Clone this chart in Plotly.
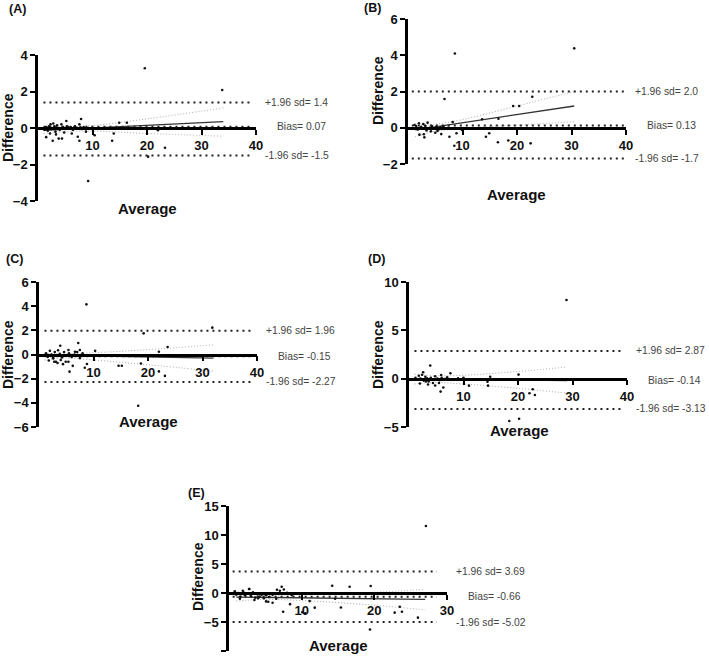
import plotly.graph_objects as go

# ---------------- data ----------------
panel_labels = ["(A)", "(B)", "(C)", "(D)", "(E)"]

A_x = [19.6, 33.8, 9.2, 23.3, 20.2, 14.9, 16.3, 13.6, 13.9, 7.9, 7.6, 7.3, 10.4, 5.2, 2.7, 3.8, 4.4, 1.5, 22.0,
       1.2, 1.5, 1.8, 2.0, 2.3, 2.5, 2.8, 3.0, 3.2, 3.5, 3.8, 4.0, 4.3, 4.6, 5.0, 5.3, 5.6, 6.0, 6.4, 6.8,
       7.2, 7.6, 8.0, 8.4, 8.8, 9.3, 2.2, 3.3, 4.8, 6.2]
A_y = [3.27, 2.08, -2.9, -1.08, -1.57, 0.29, 0.29, -0.7, -0.3, 0.49, -0.7, -0.48, -0.4, 0.38, -0.7, -0.58, -0.58, -0.5, -0.12,
       -0.1, 0.05, -0.15, 0.1, 0.2, -0.05, 0.25, 0.1, -0.2, 0.15, 0.0, -0.1, 0.2, 0.05, -0.05, 0.1, 0.0, 0.05, -0.1, 0.1,
       0.0, 0.2, -0.05, 0.05, -0.2, 0.0, -0.3, -0.35, -0.25, -0.3]

B_x = [30.5, 8.6, 6.7, 22.8, 19.3, 20.4, 13.6, 16.6, 14.3, 14.9, 16.5, 18.4, 22.5, 8.5, 8.9, 7.6, 8.2, 6.1, 5.0, 2.1,
       2.9, 3.0, 9.9,
       1.2, 1.5, 2.0, 2.4, 2.8, 3.2, 3.6, 4.0, 4.4, 4.8, 5.2, 5.6, 6.0, 6.5, 7.0, 7.4, 1.8, 3.4, 4.2, 5.4]
B_y = [4.38, 4.1, 1.59, 1.71, 1.2, 1.2, 0.47, 0.5, -0.5, -0.3, -0.8, -0.7, -0.86, -0.99, -0.3, -0.5, 0.32, -0.35, -0.28, -0.38,
       -0.36, -0.53, -0.12,
       0.15, 0.1, 0.25, 0.05, 0.2, 0.1, 0.28, 0.0, 0.1, -0.05, 0.05, -0.1, 0.02, 0.08, -0.05, 0.0, -0.1, -0.15, -0.2, -0.18]

C_x = [8.7, 31.8, 19.2, 23.6, 18.2, 23.1, 22.0, 14.6, 15.2, 7.2, 3.9, 5.6, 6.2, 8.4, 8.8, 10.3, 4.9, 5.4, 3.1, 2.6,
       5.4, 6.6, 7.5, 18.7, 22.0,
       1.3, 1.6, 2.0, 2.3, 2.6, 2.9, 3.2, 3.5, 3.8, 4.2, 4.6, 5.0, 5.5, 6.0, 6.5, 7.0, 7.5, 8.0, 1.8, 2.8, 3.4, 4.0, 4.4]
C_y = [4.15, 2.22, 1.75, 0.62, -4.24, -1.77, -1.4, -0.93, -0.93, 0.95, 0.72, -1.42, -0.94, -1.1, -0.79, 0.3, -0.6, -0.6, -0.6, -0.32,
       0.37, 0.23, 0.37, -0.75, 0.23,
       0.1, -0.2, 0.3, 0.0, -0.3, 0.2, -0.1, 0.35, 0.05, -0.25, 0.2, -0.1, 0.1, -0.2, 0.0, 0.2, -0.3, 0.1, -0.5, -0.6, -0.7, -0.45, -0.8]

D_x = [28.9, 18.4, 20.2, 20.1, 22.1, 22.7, 23.1, 14.5, 14.4, 14.9, 11.0, 5.8, 6.3, 5.5, 3.9, 7.6, 5.9, 2.6, 3.1, 4.4,
       1.2, 1.5, 1.8, 2.1, 2.4, 2.7, 3.0, 3.3, 3.6, 4.0, 4.4, 4.8, 5.2, 5.6, 6.0, 6.5, 7.0, 8.0, 9.0, 10.0, 2.0, 3.5, 4.8]
D_y = [8.14, -4.38, -4.15, 0.42, -1.51, -1.1, -1.69, -0.72, -0.31, 0.2, -0.72, -1.34, -0.91, -0.45, 1.35, 0.56, 0.38, 0.67, -0.3, -0.45,
       0.1, -0.1, 0.3, 0.0, 0.4, -0.2, 0.2, 0.05, -0.3, 0.1, -0.1, 0.25, 0.0, -0.15, 0.1, -0.05, 0.15, -0.1, 0.05, 0.1, -0.5, -0.6, -0.7]

E_x = [27.1, 19.4, 14.2, 16.6, 19.5, 26.0, 22.8, 23.5, 23.8, 15.4, 11.8, 14.6, 10.1, 10.5, 7.45, 8.4, 6.6, 7.25, 7.55, 8.0,
       8.65, 11.1, 5.4, 6.0, 5.1, 2.75, 7.0,
       0.8, 1.0, 1.3, 1.6, 1.9, 2.2, 2.5, 2.8, 3.0, 3.3, 3.6, 3.9, 4.2, 4.5, 4.8, 5.1, 5.5, 6.0, 6.5, 1.5, 2.0, 3.5, 4.0]
E_y = [11.55, -6.3, 1.26, 1.09, 1.2, -4.25, -3.39, -2.36, -3.22, -2.5, -2.53, -1.0, -3.3, -3.5, -3.22, -1.92, 0.55, 1.09, 0.6, 0.05,
       -0.4, -1.4, -1.5, -1.67, -1.45, 0.69, 0.4,
       0.3, -0.3, 0.0, -0.6, 0.4, -0.4, -0.1, 0.7, -0.5, 0.1, -0.8, -0.2, -0.6, -0.3, -0.9, -0.4, -0.7, -0.3, -1.0, -1.0, 0.1, -1.2, -0.9]

# limits of agreement: upper, bias, lower
A_loa = [1.4, 0.07, -1.5]
B_loa = [2.0, 0.13, -1.7]
C_loa = [1.96, -0.15, -2.27]
D_loa = [2.87, -0.14, -3.13]
E_loa = [3.69, -0.66, -5.02]

A_loa_text = ["+1.96 sd= 1.4", "Bias= 0.07", "-1.96 sd= -1.5"]
B_loa_text = ["+1.96 sd= 2.0", "Bias= 0.13", "-1.96 sd= -1.7"]
C_loa_text = ["+1.96 sd= 1.96", "Bias= -0.15", "-1.96 sd= -2.27"]
D_loa_text = ["+1.96 sd= 2.87", "Bias= -0.14", "-1.96 sd= -3.13"]
E_loa_text = ["+1.96 sd= 3.69", "Bias= -0.66", "-1.96 sd= -5.02"]

# extent of the limit lines along x
A_loa_x = [1, 39.5]
B_loa_x = [0.7, 39.8]
C_loa_x = [1, 39.4]
D_loa_x = [1, 39]
E_loa_x = [0.5, 28.6]

# regression line (endpoints) and confidence band points
A_reg_x, A_reg_y = [1, 34], [-0.13, 0.35]
A_band_x = [1, 5, 10, 20, 34]
A_band_up = [0.02, 0.05, 0.13, 0.5, 1.1]
A_band_lo = [-0.3, -0.2, -0.17, -0.3, -0.45]

B_reg_x, B_reg_y = [1.3, 30.5], [-0.12, 1.2]
B_band_x = [1.3, 5, 10, 20, 30.5]
B_band_up = [0.22, 0.2, 0.45, 1.2, 2.0]
B_band_lo = [-0.5, -0.2, -0.05, 0.15, 0.33]

C_reg_x, C_reg_y = [1, 32], [-0.05, -0.3]
C_band_x = [1, 5, 10, 20, 32]
C_band_up = [0.1, 0.05, 0.15, 0.4, 0.8]
C_band_lo = [-0.46, -0.3, -0.45, -0.85, -1.37]

D_reg_x, D_reg_y = [1, 29], [0.0, -0.2]
D_band_x = [1, 5, 10, 20, 29]
D_band_up = [0.45, 0.3, 0.35, 0.75, 1.2]
D_band_lo = [-0.55, -0.4, -0.55, -1.0, -1.5]

E_reg_x, E_reg_y = [1, 27], [-0.7, -1.09]
E_band_x = [1, 5, 10, 20, 27]
E_band_up = [-0.2, -0.35, -0.3, 0.1, 0.64]
E_band_lo = [-1.38, -1.1, -1.3, -2.1, -2.93]

# axis ranges and ticks
x_ranges = [[0, 40], [0, 40], [0, 40], [0, 40], [0, 30]]
x_ticks = [[10, 20, 30, 40]] * 4 + [[10, 20, 30]]
y_ranges = [[-4, 4], [-2, 6], [-6, 6], [-5, 10], [-10, 15]]
y_ticks = [[-4, -2, 0, 2, 4], [-2, 0, 2, 4, 6], [-6, -4, -2, 0, 2, 4, 6], [-5, 0, 5, 10], [-10, -5, 0, 5, 10, 15]]

# ---------------- layout geometry (pixels of the 709x658 page) ----------------
W, H = 709, 658
def fx(px):
    return px / W
def fy(py):
    return 1 - py / H

# plot boxes: x0, x1, ytop, ybottom
boxes = [(38, 256, 55, 201), (408, 626, 19, 164), (39, 257, 282, 427), (409, 627, 282, 427), (229, 447, 506, 651)]
label_pos = [(7, 9), (362, 8), (4, 259), (366, 259), (186, 493)]
ytitle_pos = [(8, 128), (378, 90), (8, 355), (378, 354), (198, 577)]
xtitle_pos = [(147, 209), (516, 194), (148, 421), (519, 430), (338, 645)]

FONT = "Liberation Sans, Arial, sans-serif"

panels = [
    (A_x, A_y, A_loa, A_loa_text, A_loa_x, A_reg_x, A_reg_y, A_band_x, A_band_up, A_band_lo),
    (B_x, B_y, B_loa, B_loa_text, B_loa_x, B_reg_x, B_reg_y, B_band_x, B_band_up, B_band_lo),
    (C_x, C_y, C_loa, C_loa_text, C_loa_x, C_reg_x, C_reg_y, C_band_x, C_band_up, C_band_lo),
    (D_x, D_y, D_loa, D_loa_text, D_loa_x, D_reg_x, D_reg_y, D_band_x, D_band_up, D_band_lo),
    (E_x, E_y, E_loa, E_loa_text, E_loa_x, E_reg_x, E_reg_y, E_band_x, E_band_up, E_band_lo),
]

fig = go.Figure()
annotations = []

for i, (px_, py_, loa, loa_text, loa_x, rx, ry, bx, bup, blo) in enumerate(panels):
    n = i + 1
    xa = "x" if n == 1 else f"x{n}"
    ya = "y" if n == 1 else f"y{n}"
    x0, x1, yt, yb = boxes[i]

    # confidence bands
    for band in (bup, blo):
        fig.add_trace(go.Scatter(x=bx, y=band, mode="lines", xaxis=xa, yaxis=ya,
                                 line=dict(color="#a8a8a8", width=1, dash="1px,2px", shape="spline"),
                                 hoverinfo="skip", showlegend=False))
    # limits of agreement + bias
    for v in loa:
        fig.add_trace(go.Scatter(x=loa_x, y=[v, v], mode="lines", xaxis=xa, yaxis=ya,
                                 line=dict(color="#222222", width=2, dash="2px,4px"),
                                 hoverinfo="skip", showlegend=False))
    # regression line
    fig.add_trace(go.Scatter(x=rx, y=ry, mode="lines", xaxis=xa, yaxis=ya,
                             line=dict(color="#333333", width=1.3),
                             hoverinfo="skip", showlegend=False))
    # points
    fig.add_trace(go.Scatter(x=px_, y=py_, mode="markers", xaxis=xa, yaxis=ya,
                             marker=dict(color="#111111", size=2.6),
                             showlegend=False))

    ymin, ymax = y_ranges[i]
    d0, d1 = fy(yb), fy(yt)
    zero_pos = d0 + (0 - ymin) / (ymax - ymin) * (d1 - d0)

    xkey = "xaxis" if n == 1 else f"xaxis{n}"
    ykey = "yaxis" if n == 1 else f"yaxis{n}"
    fig.layout[xkey] = dict(domain=[fx(x0), fx(x1)], range=x_ranges[i], tickvals=x_ticks[i],
                            anchor="free", position=zero_pos, showline=True, linecolor="black",
                            linewidth=2.5, ticks="outside", ticklen=5, tickwidth=2, tickcolor="black",
                            showgrid=False, zeroline=False, automargin=False,
                            tickfont=dict(family=FONT, size=13, color="#111", weight="bold"))
    fig.layout[ykey] = dict(domain=[d0, d1], range=y_ranges[i], tickvals=y_ticks[i],
                            anchor=xa, showline=True, linecolor="black", linewidth=2.5,
                            ticks="outside", ticklen=5, tickwidth=2, tickcolor="black",
                            showgrid=False, zeroline=False, automargin=False,
                            tickfont=dict(family=FONT, size=13, color="#111", weight="bold"))

    # limit texts
    offsets = [7, 19, 7]
    for v, t, off in zip(loa, loa_text, offsets):
        annotations.append(dict(x=fx(x1 + off), xref="paper", y=v, yref=ya, text=t,
                                xanchor="left", yanchor="middle", showarrow=False,
                                font=dict(family=FONT, size=10.3, color="#444")))
    # panel label
    lx, ly = label_pos[i]
    annotations.append(dict(x=fx(lx), y=fy(ly), xref="paper", yref="paper", text=panel_labels[i],
                            xanchor="left", yanchor="middle", showarrow=False,
                            font=dict(family=FONT, size=12.5, color="#111", weight="bold")))
    # axis titles
    tx, ty = ytitle_pos[i]
    annotations.append(dict(x=fx(tx), y=fy(ty), xref="paper", yref="paper", text="Difference",
                            textangle=-90, xanchor="center", yanchor="middle", showarrow=False,
                            font=dict(family=FONT, size=14, color="#111", weight="bold")))
    tx, ty = xtitle_pos[i]
    annotations.append(dict(x=fx(tx), y=fy(ty), xref="paper", yref="paper", text="Average",
                            xanchor="center", yanchor="middle", showarrow=False,
                            font=dict(family=FONT, size=15, color="#111", weight="bold")))

fig.update_layout(width=W, height=H, margin=dict(l=0, r=0, t=0, b=0, autoexpand=False),
                  paper_bgcolor="white", plot_bgcolor="white",
                  annotations=annotations, showlegend=False,
                  font=dict(family=FONT))

fig.write_html("out.html", config={"displayModeBar": False},
               post_script="document.body.style.margin='0px';document.body.style.overflow='hidden';")
